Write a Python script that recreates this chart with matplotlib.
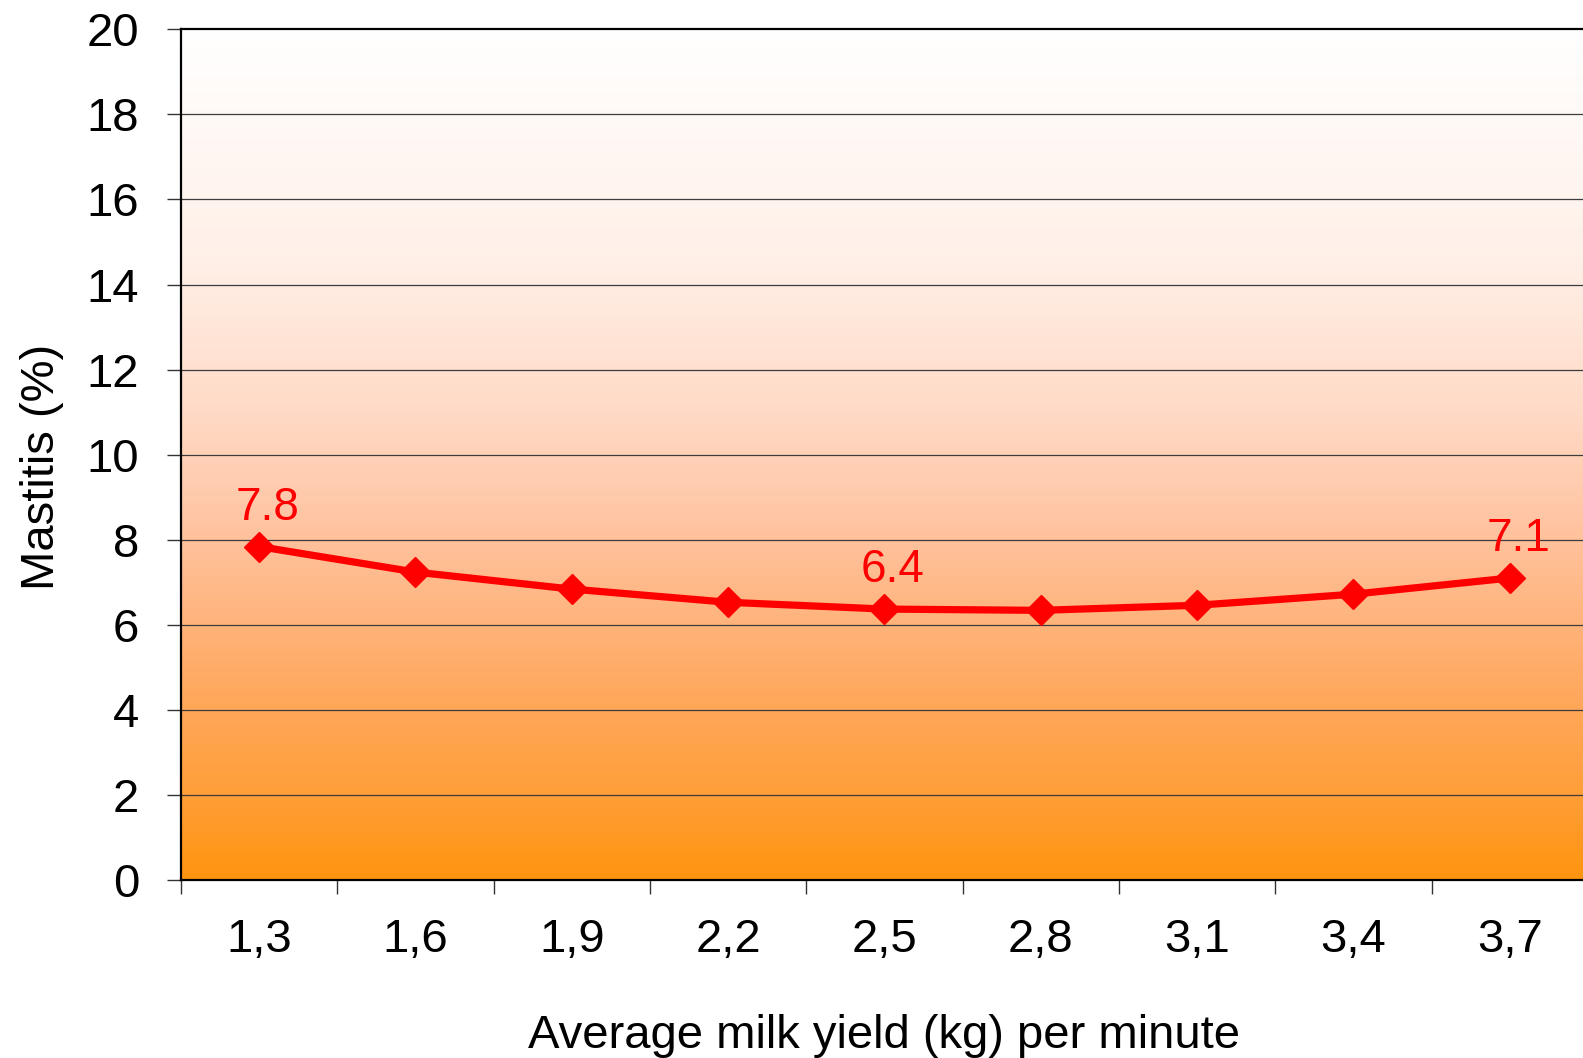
import numpy as np
import matplotlib
matplotlib.use("Agg")
import matplotlib.pyplot as plt
from matplotlib.colors import LinearSegmentedColormap

# Datos
categorias = ['1,3', '1,6', '1,9', '2,2', '2,5', '2,8', '3,1', '3,4', '3,7']
mastitis = [7.84, 7.24, 6.84, 6.53, 6.37, 6.34, 6.46, 6.72, 7.10]
etiquetados = [0, 4, 8]  # puntos con etiqueta de valor

plt.rcParams['font.family'] = ['Liberation Sans', 'DejaVu Sans']

fig = plt.figure(figsize=(15.83, 10.58), dpi=100)
ax = fig.add_axes([0.1143, 0.1682, 0.8888, 0.8041])

n = len(categorias)
ax.set_xlim(0, n)
ax.set_ylim(0, 20)

# Fondo degradado (blanco arriba, naranja abajo)
paradas = [(0.0, '#ff940f'), (0.11, '#ffa03c'), (0.22, '#ffa85f'),
           (0.41, '#ffc3a0'), (0.55, '#ffdac6'), (0.73, '#fff0e8'), (1.0, '#ffffff')]
cmap = LinearSegmentedColormap.from_list('fondo', paradas)
grad = np.linspace(0, 1, 256).reshape(-1, 1)
ax.imshow(grad, cmap=cmap, aspect='auto', extent=[0, n, 0, 20],
          origin='lower', zorder=0)

# Rejilla
for y in range(2, 20, 2):
    ax.axhline(y, color='#3c3c3c', lw=0.9, zorder=1)

# Serie
x = np.arange(n) + 0.5
ax.plot(x, mastitis, color='#ff0000', lw=5.2, marker='D', markersize=15,
        zorder=3, clip_on=False)
for i in etiquetados:
    ax.annotate(f'{mastitis[i]:.1f}', (x[i], mastitis[i]), xytext=(6, 28),
                textcoords='offset points', ha='center', va='center',
                color='#ff0000', fontsize=33)

# Ejes
ax.set_yticks(range(0, 21, 2))
ax.tick_params(axis='y', direction='out', length=10, width=1, pad=20,
               labelsize=34, color='#333333')
ax.set_xticks(range(0, n + 1))
ax.set_xticklabels([])
ax.tick_params(axis='x', which='major', direction='out', length=10, width=1,
               color='#333333')
ax.set_xticks(x, minor=True)
ax.set_xticklabels(categorias, minor=True)
ax.tick_params(axis='x', which='minor', length=0, pad=27, labelsize=34)

for lado in ['left', 'top', 'bottom', 'right']:
    ax.spines[lado].set_linewidth(1.6)
    ax.spines[lado].set_color('black')

ax.set_xlabel('Average milk yield (kg) per minute', fontsize=34, labelpad=38)
ax.set_ylabel('Mastitis (%)', fontsize=34, labelpad=16)
ax.yaxis.set_label_coords(-0.083, 0.485)

fig.savefig('out.png', dpi=100)
